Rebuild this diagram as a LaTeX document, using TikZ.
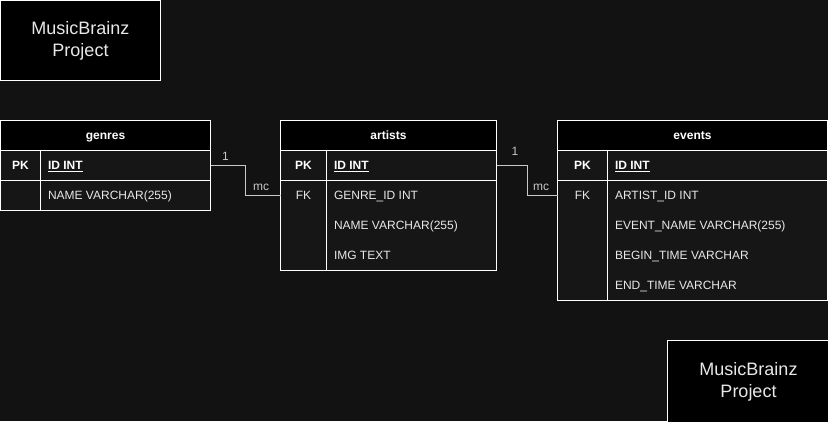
\documentclass[tikz,border=0pt]{standalone}
\usepackage{fontspec}
\setmainfont{Liberation Sans}
\definecolor{bgc}{HTML}{121212}
\definecolor{rowc}{HTML}{161616}
\definecolor{txtc}{HTML}{E8E8E8}
\definecolor{connc}{HTML}{C8C8C8}
\begin{document}
\begin{tikzpicture}[x=1pt,y=-1pt,
  every node/.style={inner sep=0pt, outer sep=0pt},
  titlebox/.style={draw=white, fill=black, line width=1pt, minimum width=160, minimum height=80, anchor=north west, text=txtc, align=center, font=\fontsize{18}{22}\selectfont},
  hdr/.style={draw=white, fill=black, line width=1pt, minimum height=30, anchor=north west, text=white, text height=8.6, text depth=0, font=\fontsize{12}{14}\selectfont\bfseries},
  body/.style={draw=white, fill=rowc, line width=1pt, anchor=north west},
  rowbox/.style={minimum height=30, anchor=north west},
  keytxt/.style={text=white, text height=8.6, text depth=0, font=\fontsize{12}{14}\selectfont\bfseries},
  fldtxt/.style={text=txtc, anchor=west, text height=8.6, text depth=0, font=\fontsize{12}{14}\selectfont},
  pktxt/.style={text=white, anchor=west, text height=8.6, text depth=0, font=\fontsize{12}{14}\selectfont\bfseries},
  divl/.style={draw=white, line width=1pt},
  conn/.style={draw=connc, line width=1pt},
  card/.style={text=connc, font=\fontsize{12}{14}\selectfont}
]
\fill[bgc] (0,0) rectangle (828,421);
\useasboundingbox (0,0) rectangle (828,421);

% title boxes
\node[titlebox] (t1) at (0.5,0.5) {MusicBrainz\\Project};
\node[titlebox, minimum width=162, minimum height=82] (t2) at (667.5,340.5) {MusicBrainz\\Project};

% ---------- genres ----------
\node[hdr, minimum width=210] (gh) at (0.5,120.5) {genres};
\node[body, rowbox, minimum width=210] (g1) at (0.5,150.5) {};
\node[body, rowbox, minimum width=210] (g2) at (0.5,180.5) {};
\draw[divl] (40.5,150.5) -- (40.5,210.5);
\node[keytxt] (g1k) at (20.5,165.5) {PK};
\node[pktxt] (g1f) at (48,165.5) {\underline{ID INT}};
\node[fldtxt] (g2f) at (48,195.5) {NAME VARCHAR(255)};

% ---------- artists ----------
\node[hdr, minimum width=216] (ah) at (280.5,120.5) {artists};
\node[body, rowbox, minimum width=216] (a1) at (280.5,150.5) {};
\node[body, minimum width=216, minimum height=90] (abody) at (280.5,180.5) {};
\node[rowbox, minimum width=216] (a2) at (280.5,180.5) {};
\draw[divl] (326.5,150.5) -- (326.5,270.5);
\node[keytxt] (a1k) at (303.5,165.5) {PK};
\node[pktxt] (a1f) at (334,165.5) {\underline{ID INT}};
\node[keytxt, font=\fontsize{12}{14}\selectfont, text=txtc] (a2k) at (303.5,195.5) {FK};
\node[fldtxt] (a2f) at (334,195.5) {GENRE\_ID INT};
\node[fldtxt] (a3f) at (334,225.5) {NAME VARCHAR(255)};
\node[fldtxt] (a4f) at (334,255.5) {IMG TEXT};

% ---------- events ----------
\node[hdr, minimum width=270] (eh) at (557.5,120.5) {events};
\node[body, rowbox, minimum width=270] (e1) at (557.5,150.5) {};
\node[body, minimum width=270, minimum height=120] (ebody) at (557.5,180.5) {};
\node[rowbox, minimum width=270] (e2) at (557.5,180.5) {};
\draw[divl] (607.5,150.5) -- (607.5,300.5);
\node[keytxt] (e1k) at (582.5,165.5) {PK};
\node[pktxt] (e1f) at (615,165.5) {\underline{ID INT}};
\node[keytxt, font=\fontsize{12}{14}\selectfont, text=txtc] (e2k) at (582.5,195.5) {FK};
\node[fldtxt] (e2f) at (615,195.5) {ARTIST\_ID INT};
\node[fldtxt] (e3f) at (615,225.5) {EVENT\_NAME VARCHAR(255)};
\node[fldtxt] (e4f) at (615,255.5) {BEGIN\_TIME VARCHAR};
\node[fldtxt] (e5f) at (615,285.5) {END\_TIME VARCHAR};

% ---------- connectors ----------
\draw[conn] (g1.east) -- ++(35,0) |- (a2.west);
\draw[conn] (a1.east) -- ++(31,0) |- (e2.west);
\node[card] (c1) at (225.5,156.5) {1};
\node[card] (c2) at (261,187) {mc};
\node[card] (c3) at (515,151.5) {1};
\node[card] (c4) at (541,187) {mc};
\end{tikzpicture}
\end{document}
